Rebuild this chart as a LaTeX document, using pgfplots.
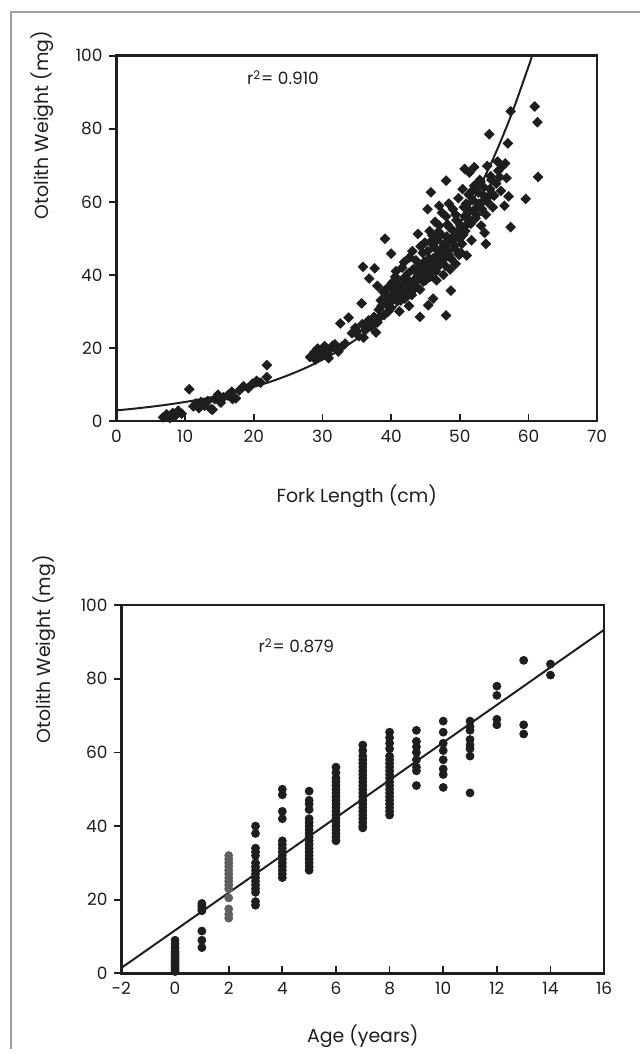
\documentclass[border=0pt]{standalone}
\usepackage{pgfplots}
\pgfplotsset{compat=1.18}
\usepackage{fontspec}
\setmainfont{Poppins}
\definecolor{ink}{HTML}{1E1E1E}
\pgfplotsset{
  paper/.style={
    scale only axis, clip=false, axis line style={line width=1.3pt, ink},
    tick style={line width=0.9pt, ink},
    xtick pos=bottom, ytick pos=left,
    xtick align=inside, ytick align=outside,
    major tick length=3.5pt,
    /pgf/number format/assume math mode=true,
    ticklabel style={font=\fontsize{8.5}{10}\selectfont, text=ink},
    xticklabel style={yshift=-1pt},
  }
}
\begin{document}
\begin{tikzpicture}[x=1pt,y=1pt]
\path (0,0) rectangle (321.5,527);
\draw[gray!75, line width=0.9pt] (5.5,0) -- (5.5,521) -- (321.5,521);

% ---------- top panel ----------
\begin{axis}[paper, at={(58.5pt,315.5pt)}, anchor=south west,
  width=241.5pt, height=183.5pt,
  xmin=0, xmax=70, ymin=0, ymax=100,
  xtick={0,10,...,70}, ytick={0,20,...,100}]
\addplot[only marks, mark=square*, mark size=1.7pt, ink,
  mark options={rotate=45, fill=ink, draw=ink}] coordinates {
(6.8,1.0)(7.3,1.8)(7.8,0.8)(8.2,2.2)(8.6,1.5)(9.0,2.8)(9.5,2.0)(10.6,8.7)
(11.2,4.0)(11.6,4.8)(12.0,3.5)(12.3,5.2)(12.8,4.2)(13.3,5.5)(13.8,3.2)(14.0,3.1)
(14.3,6.0)(14.8,7.2)(15.2,5.0)(15.6,6.5)(16.2,7.0)(16.9,6.0)(16.8,8.0)(17.4,6.2)
(17.9,8.4)(18.5,9.5)(19.2,9.0)(19.8,10.2)(20.4,11.0)(21.0,10.5)(21.9,12.0)(21.9,15.3)
(28.2,17.5)(28.8,18.8)(29.3,19.8)(29.8,17.9)(30.3,20.5)(30.7,18.6)(31.2,19.9)(31.8,21.0)
(32.3,19.0)(32.8,20.3)(33.3,21.2)(29.0,16.8)(30.9,17.2)(31.5,20.6)(29.6,19.0)(30.0,18.3)
(34.3,24.0)(34.8,25.5)(35.3,23.2)(35.8,26.5)(36.2,24.8)(36.7,27.5)(37.1,25.8)(37.5,28.5)
(38.0,27.0)(36.0,22.8)(37.8,24.2)(32.6,26.7)(33.8,28.3)(35.7,32.2)(36.8,39.0)(35.9,42.2)
(37.6,41.8)(39.1,49.9)(40.0,45.8)(35.0,24.6)(36.4,26.0)(37.3,27.0)(38.4,28.5)
(38.2,30.5)(38.5,33.0)(38.8,35.5)(39.0,29.0)(39.3,32.0)(39.5,36.5)(39.8,34.0)(40.0,31.0)
(40.2,38.0)(40.5,35.0)(40.8,33.0)(41.0,37.5)(41.2,30.0)(41.5,35.5)(41.8,39.0)(42.0,33.5)
(42.2,36.5)(42.5,40.5)(42.8,38.0)(43.0,34.5)(43.2,41.5)(43.5,37.0)(43.8,39.5)(44.0,42.5)
(44.2,36.0)(44.5,40.5)(44.8,43.5)(45.0,38.5)(45.2,41.0)(45.5,44.5)(38.0,37.0)(38.6,31.5)
(39.6,30.0)(40.6,39.5)(41.6,42.0)(42.6,31.5)(43.6,44.0)(44.6,46.0)(40.3,36.0)(41.4,33.0)
(42.3,38.8)(43.3,36.0)(43.9,51.2)(44.2,28.5)(45.4,31.7)(46.1,33.5)(48.0,28.9)(48.7,35.7)
(39.2,34.5)(39.9,32.5)(40.4,33.8)(40.9,35.8)(41.1,34.0)(41.7,36.8)(42.1,35.0)(42.4,37.5)
(42.9,36.2)(43.4,38.6)(43.7,40.8)(44.1,39.0)(44.4,41.8)(44.7,38.2)(45.1,42.8)(45.4,40.0)
(45.8,43.2)(46.2,41.5)(46.5,45.0)(46.8,42.2)(47.2,47.0)(47.6,44.8)(48.0,47.8)(48.4,45.5)
(48.8,50.0)(49.2,48.0)(49.6,51.5)(50.0,50.0)(50.4,53.0)(50.8,52.0)(51.2,55.5)(51.6,54.0)
(52.0,57.5)(52.4,56.5)(52.8,59.5)(53.2,58.0)(53.6,61.5)(54.0,60.0)(54.4,63.5)(54.8,62.0)
(40.7,41.0)(41.9,43.5)(42.7,44.8)(43.1,46.5)(44.3,47.8)(45.7,49.0)(46.9,51.8)(48.2,53.8)
(49.4,56.5)(50.6,58.5)(51.8,63.0)(53.0,65.5)(54.6,66.0)(55.8,66.8)
(45.3,46.5)(45.7,39.5)(45.9,42.0)(46.1,44.5)(46.3,47.5)(46.5,41.0)(46.7,49.5)(46.9,43.5)
(47.1,46.0)(47.3,51.0)(47.5,44.0)(47.7,48.5)(47.9,42.5)(48.1,50.5)(48.3,46.5)(48.5,53.0)
(48.7,44.5)(48.9,49.0)(49.1,52.0)(49.3,47.0)(49.5,55.0)(49.7,50.5)(49.9,45.5)(50.1,53.5)
(50.3,48.5)(46.0,50.8)(47.0,53.5)(48.0,56.0)(49.0,58.0)(46.6,38.5)(47.6,40.0)(48.6,41.5)
(45.6,52.0)(46.4,54.5)(47.4,57.0)(48.4,59.5)(44.9,48.8)(45.8,62.6)(48.0,65.8)(45.3,58.0)
(47.0,58.9)(49.8,61.0)(50.4,63.5)(49.4,43.0)(47.2,45.2)
(50.5,51.0)(50.7,56.0)(50.9,59.5)(51.1,54.0)(51.3,62.0)(51.5,57.5)(51.7,49.5)(51.9,60.5)
(52.1,64.4)(52.3,55.5)(52.5,58.5)(52.7,62.5)(52.9,66.0)(53.1,53.5)(53.3,60.0)(53.5,64.0)
(53.8,56.5)(54.0,69.8)(54.2,61.5)(54.5,67.0)(54.8,58.5)(55.0,61.7)(55.3,65.0)(55.6,68.5)
(56.0,63.0)(56.2,69.8)(56.5,58.9)(56.8,66.5)(57.1,61.5)(50.7,69.0)(51.4,68.0)(52.1,69.5)
(53.6,51.5)(50.2,46.0)(51.0,45.3)(53.8,48.5)(57.4,53.1)(59.6,60.8)(61.4,66.8)(54.3,78.5)
(57.0,76.0)(57.4,84.8)(60.9,86.1)(61.3,81.8)(55.5,71.0)(56.6,70.5)
};
\addplot[ink, line width=1pt, smooth] coordinates {
(0,2.90)(2.5,3.36)(5,3.89)(7.5,4.50)(10,5.21)(12.5,6.02)(15,6.97)(17.5,8.07)
(20,9.34)(22.5,10.81)(25,12.52)(27.5,14.49)(30,16.77)(32.5,19.41)(35,22.47)
(37.5,26.01)(40,30.11)(42.5,34.84)(45,40.33)(47.5,46.68)(50,54.04)(52.5,62.55)
(55,72.41)(57.5,83.81)(60,97.02)(60.5,99.9)
};
\node[anchor=west, font=\fontsize{8.5}{10}\selectfont, text=ink] at (axis cs:18,94) {r\textsuperscript{2}= 0.910};
\node[rotate=90, font=\fontsize{9.5}{11}\selectfont, text=ink] at (rel axis cs:-0.155,0.81) {Otolith Weight (mg)};
\node[font=\fontsize{9.5}{11}\selectfont, text=ink] at (rel axis cs:0.5,-0.205) {Fork Length (cm)};
\end{axis}

% ---------- bottom panel ----------
\begin{axis}[paper, at={(61pt,38pt)}, anchor=south west,
  width=242.5pt, height=185pt,
  xmin=-2, xmax=16, ymin=0, ymax=100,
  xtick={-2,0,...,16}, ytick={0,20,...,100}]
\addplot[only marks, mark=*, mark size=2pt, ink, mark options={fill=ink, draw=ink}] table {
x y
0 0.5
0 1
0 1.5
0 2
0 2.5
0 3
0 3.5
0 4
0 4.5
0 5
0 5.5
0 6
0 7
0 8
0 9
1 17
1 17.5
1 18
1 18.5
1 19
1 11.5
1 9
1 7
3 40
3 38
3 34
3 33
3 32
3 30
3 29
3 28
3 27
3 26
3 25
3 24
3 23
3 22
3 19.5
3 18.5
4 50
4 48.5
4 44
4 42
4 36
4 35
4 34
4 33
4 32
4 31
4 30
4 29
4 28
4 27
4 26
5 49.5
5 47
5 46
5 44.5
5 42
5 41
5 40
5 39
5 38
5 37
5 36
5 35
5 34
5 33
5 32
5 31
5 30
5 29
5 28
6 56
6 54.5
6 53
6 52
6 51
6 50
6 49
6 48
6 47
6 46
6 45
6 44
6 43
6 42
6 41
6 40
6 39
6 38
6 37
6 36
7 62
7 60.5
7 59
7 58
7 57
7 56
7 55
7 54
7 53
7 52
7 51
7 50
7 49
7 48
7 47
7 46
7 45
7 44
7 43
7 42
7 41
7 40
7 39.5
8 65.5
8 64
8 62.5
8 61
8 59
8 58
8 57
8 56
8 55
8 54
8 53
8 52
8 51
8 50
8 49
8 48
8 47
8 46
8 45
8 44
8 43
9 66
9 63
9 61.5
9 60
9 58
9 56
9 55
9 51
10 68.5
10 65.5
10 62.5
10 60.5
10 58
10 55.5
10 54
10 50.5
11 68.5
11 67
11 66
11 63.5
11 62
11 61
11 59
11 49
12 78
12 75.5
12 69
12 67.5
13 85
13 67.5
13 65
14 84
14 81
};
\addplot[only marks, mark=*, mark size=2pt, mark options={fill=gray!75!black, draw=gray!75!black}] table {
x y
2 23
2 24
2 25
2 26
2 27
2 28
2 29
2 30
2 31
2 32
2 20.5
2 17.5
2 16
2 15
};
\addplot[ink, line width=1pt] coordinates {(-2,1.5)(16,93.3)};
\node[anchor=west, font=\fontsize{8.5}{10}\selectfont, text=ink] at (axis cs:2.85,89) {r\textsuperscript{2}= 0.879};
\node[rotate=90, font=\fontsize{9.5}{11}\selectfont, text=ink] at (rel axis cs:-0.159,0.88) {Otolith Weight (mg)};
\node[font=\fontsize{9.5}{11}\selectfont, text=ink] at (rel axis cs:0.5,-0.17) {Age (years)};
\end{axis}
\end{tikzpicture}
\end{document}
